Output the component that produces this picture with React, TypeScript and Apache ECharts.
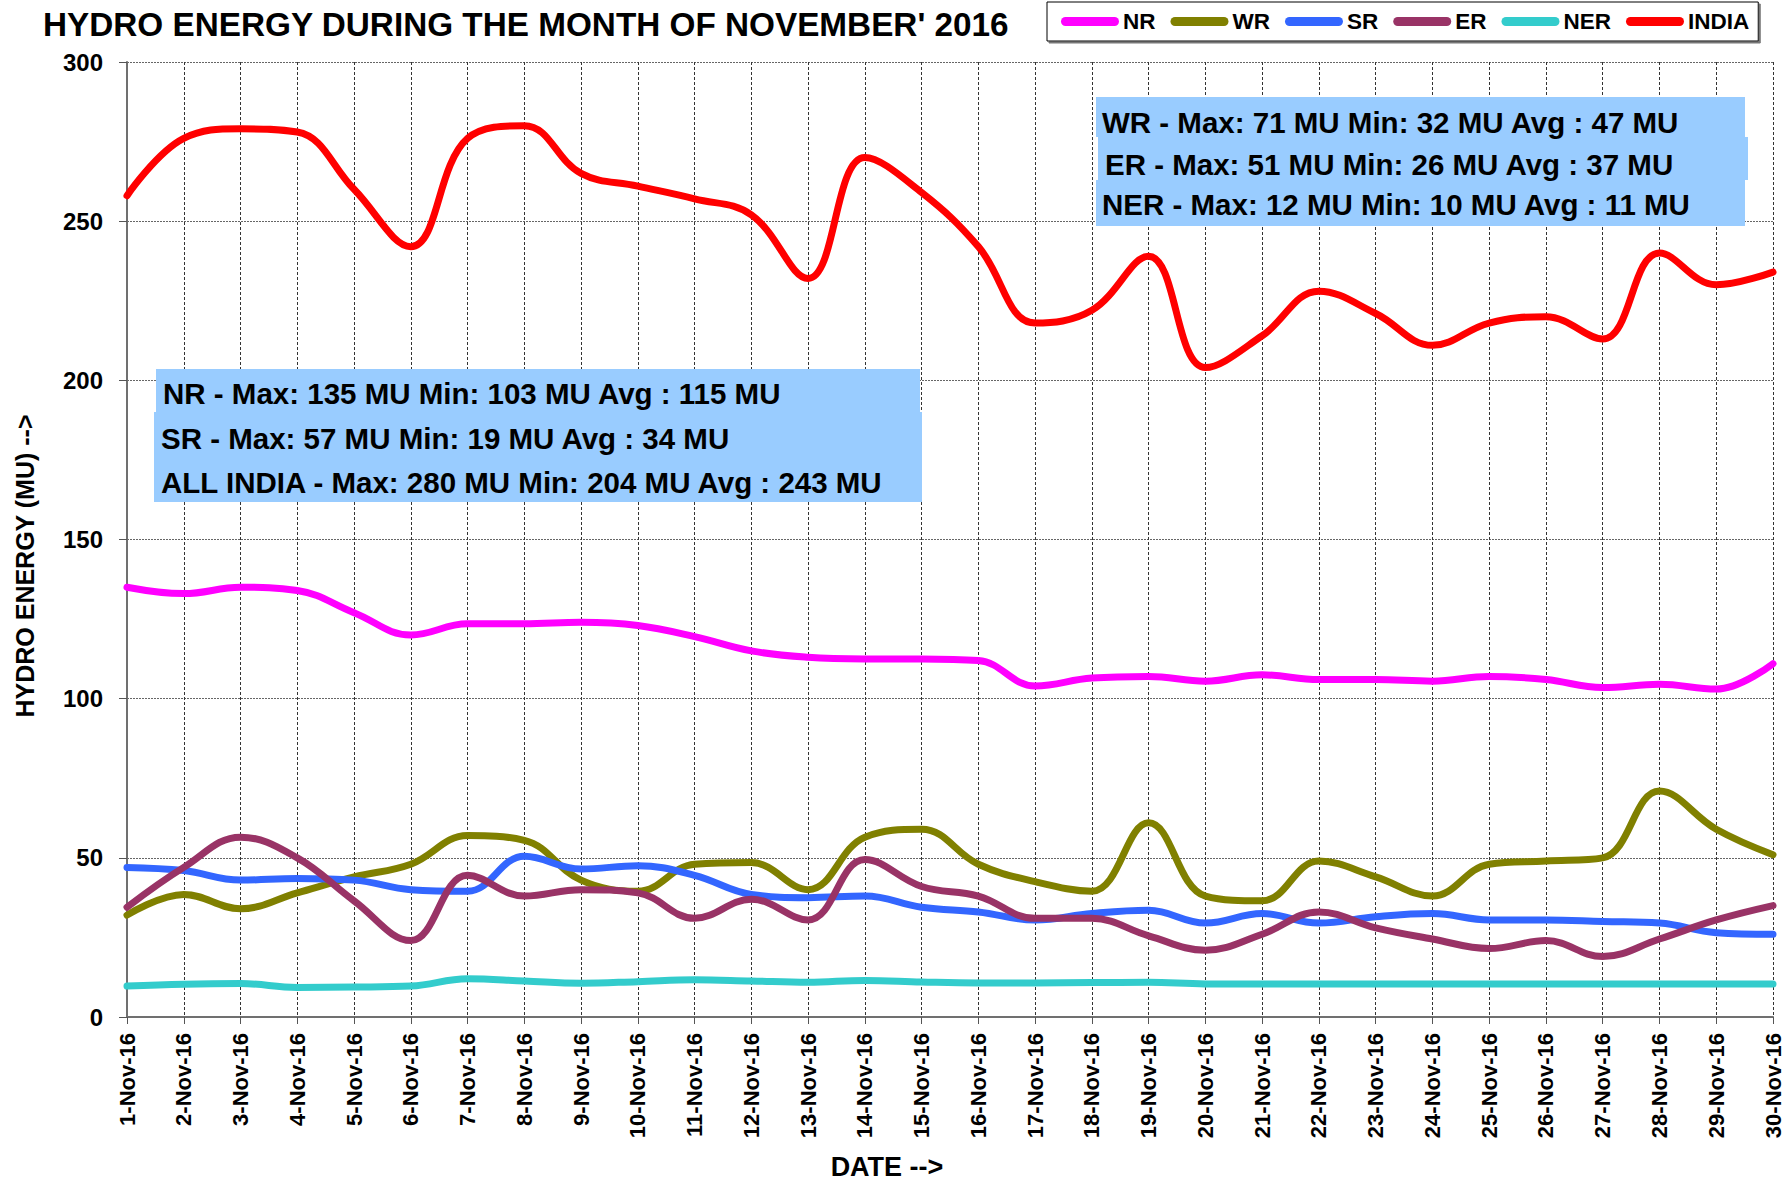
import React, { useEffect, useRef } from "react";
import * as echarts from "echarts";

const dates = [
  "1-Nov-16", "2-Nov-16", "3-Nov-16", "4-Nov-16", "5-Nov-16", "6-Nov-16", "7-Nov-16", "8-Nov-16",
  "9-Nov-16", "10-Nov-16", "11-Nov-16", "12-Nov-16", "13-Nov-16", "14-Nov-16", "15-Nov-16",
  "16-Nov-16", "17-Nov-16", "18-Nov-16", "19-Nov-16", "20-Nov-16", "21-Nov-16", "22-Nov-16",
  "23-Nov-16", "24-Nov-16", "25-Nov-16", "26-Nov-16", "27-Nov-16", "28-Nov-16", "29-Nov-16", "30-Nov-16",
];

const nrValues = [135, 133, 135, 134, 127, 120, 123.5, 123.5, 124, 123, 119.5, 115, 113, 112.5, 112.5,
  112, 104, 106.5, 107, 105.5, 107.5, 106, 106, 105.5, 107, 106, 103.5, 104.5, 103, 111];
const wrValues = [32, 38.5, 34, 39, 44, 48, 57, 55.5, 43, 39.5, 48, 48.5, 40, 56.5, 59,
  48, 42.5, 39.5, 61, 38, 36.5, 49, 44, 38, 48, 49, 50, 71, 59, 51];
const srValues = [47, 46, 43, 43.5, 43, 40, 39.5, 50.5, 46.5, 47.5, 44.5, 38.5, 37.5, 38, 34.5,
  33, 30.5, 32.5, 33.5, 29.5, 32.5, 29.5, 31.5, 32.5, 30.5, 30.5, 30, 29.5, 26.5, 26];
const erValues = [34.5, 47, 56.5, 50, 36.5, 24, 44.5, 38, 40, 39, 31, 37, 30.5, 49.5, 41,
  38, 31, 31, 25.5, 21, 26, 33, 28, 24.5, 21.5, 24, 19, 24.5, 30.5, 35];
const nerValues = [9.7, 10.3, 10.5, 9.3, 9.4, 9.7, 12, 11.3, 10.6, 11.1, 11.7, 11.3, 10.9, 11.5, 11,
  10.7, 10.7, 10.8, 10.9, 10.4, 10.4, 10.4, 10.4, 10.4, 10.4, 10.4, 10.4, 10.4, 10.4, 10.4];
const indiaValues = [258, 276, 279, 278, 260, 242, 276, 280, 265, 261, 257, 252, 232, 270, 259,
  242, 218, 222, 239, 204, 214, 228, 221, 211, 218, 220, 213, 240, 230, 234];

const seriesNames = ["NR", "WR", "SR", "ER", "NER", "INDIA"];
const seriesColors = ["#FF00FF", "#808000", "#3366FF", "#993366", "#33CCCC", "#FF0000"];
const seriesValues = [nrValues, wrValues, srValues, erValues, nerValues, indiaValues];

const yTicks = { min: 0, max: 300, interval: 50 };

const titleText = "HYDRO ENERGY DURING THE MONTH OF NOVEMBER' 2016";
const yAxisTitle = "HYDRO ENERGY (MU) -->";
const xAxisTitle = "DATE -->";
const boxLeftLines = [
  "NR - Max: 135 MU Min: 103 MU Avg : 115 MU",
  "SR - Max: 57 MU Min: 19 MU Avg : 34 MU",
  "ALL INDIA - Max: 280 MU Min: 204 MU Avg : 243 MU",
];
const boxRightLines = [
  "WR - Max: 71 MU Min: 32 MU Avg : 47 MU",
  "ER - Max: 51 MU Min: 26 MU Avg : 37 MU",
  "NER - Max: 12 MU Min: 10 MU Avg : 11 MU",
];

const FONT = "'Liberation Sans', Arial, Helvetica, sans-serif";
const BOX_FILL = "#99CCFF";

export default function App() {
  const ref = useRef<HTMLDivElement>(null);

  useEffect(() => {
    if (!ref.current) return;
    const chart = echarts.init(ref.current, null, { renderer: "svg" });

    const textStyle = (text: string, x: number, y: number, size: number) => ({
      type: "text",
      x,
      y,
      style: {
        text,
        fill: "#000",
        font: `bold ${size}px ${FONT}`,
        align: "left",
        verticalAlign: "middle",
      },
      z: 101,
    });

    const option: any = {
      animation: false,
      backgroundColor: "#fff",
      grid: { left: 127, right: 19, top: 62, bottom: 165, containLabel: false },
      legend: {
        data: seriesNames,
        left: 1047,
        top: 2,
        orient: "horizontal",
        itemWidth: 58,
        itemHeight: 9,
        itemGap: 15,
        padding: [8, 9, 8, 14],
        icon: "path://M4.5,0 L53.5,0 A4.5,4.5 0 0 1 53.5,9 L4.5,9 A4.5,4.5 0 0 1 4.5,0 Z",
        backgroundColor: "#fff",
        borderColor: "#000",
        borderWidth: 1,
        shadowColor: "#777",
        shadowOffsetX: 2,
        shadowOffsetY: 2,
        shadowBlur: 0,
        textStyle: { fontFamily: FONT, fontWeight: "bold", fontSize: 22.5, color: "#000", padding: [0, 0, 0, -1] },
        selectedMode: false,
      },
      xAxis: {
        type: "category",
        data: dates,
        boundaryGap: false,
        axisLine: { lineStyle: { color: "#707070", width: 2 } },
        axisTick: { show: true, length: 7, inside: false, alignWithLabel: true, lineStyle: { color: "#555", width: 1 } },
        axisLabel: {
          interval: 0,
          rotate: 90,
          margin: 16,
          fontFamily: FONT,
          fontWeight: "bold",
          fontSize: 22,
          color: "#000",
        },
        splitLine: { show: true, interval: 0, lineStyle: { color: "#333", width: 1, type: [3, 2] } },
      },
      yAxis: {
        type: "value",
        min: yTicks.min,
        max: yTicks.max,
        interval: yTicks.interval,
        axisLine: { show: true, lineStyle: { color: "#707070", width: 2 } },
        axisTick: { show: true, length: 8, lineStyle: { color: "#555", width: 1 } },
        axisLabel: {
          margin: 24,
          fontFamily: FONT,
          fontWeight: "bold",
          fontSize: 24,
          color: "#000",
        },
        splitLine: { show: true, lineStyle: { color: "#666", width: 1, type: [2, 1] } },
      },
      series: seriesNames.map((name, i) => ({
        name,
        type: "line",
        data: seriesValues[i],
        smooth: 0.4,
        showSymbol: false,
        symbol: "none",
        color: seriesColors[i],
        itemStyle: { color: seriesColors[i] },
        lineStyle: { color: seriesColors[i], width: 7, cap: "round", join: "round" },
        emphasis: { disabled: true },
        z: 2 + i,
      })),
      graphic: [
        {
          type: "text",
          x: 43,
          y: 24,
          style: { text: titleText, fill: "#000", font: `bold 33.3px ${FONT}`, align: "left", verticalAlign: "middle" },
        },
        {
          type: "text",
          x: 25,
          y: 566,
          rotation: Math.PI / 2,
          style: { text: yAxisTitle, fill: "#000", font: `bold 25px ${FONT}`, align: "center", verticalAlign: "middle" },
        },
        {
          type: "text",
          x: 887,
          y: 1167,
          style: { text: xAxisTitle, fill: "#000", font: `bold 27px ${FONT}`, align: "center", verticalAlign: "middle" },
        },
        // left box
        { type: "rect", shape: { x: 156, y: 369, width: 764, height: 44 }, style: { fill: BOX_FILL }, z: 100 },
        { type: "rect", shape: { x: 154, y: 412, width: 768, height: 90 }, style: { fill: BOX_FILL }, z: 100 },
        textStyle(boxLeftLines[0], 163, 393, 29.5),
        textStyle(boxLeftLines[1], 161, 438, 29.5),
        textStyle(boxLeftLines[2], 161, 482, 29.5),
        // right box
        { type: "rect", shape: { x: 1096, y: 97, width: 649, height: 40 }, style: { fill: BOX_FILL }, z: 100 },
        { type: "rect", shape: { x: 1098, y: 137, width: 650, height: 43 }, style: { fill: BOX_FILL }, z: 100 },
        { type: "rect", shape: { x: 1096, y: 180, width: 649, height: 46 }, style: { fill: BOX_FILL }, z: 100 },
        textStyle(boxRightLines[0], 1102, 122, 29.5),
        textStyle(boxRightLines[1], 1105, 164, 29.5),
        textStyle(boxRightLines[2], 1102, 204, 29.5),
      ],
    };

    chart.setOption(option);
    return () => chart.dispose();
  }, []);

  return (
    <div
      ref={ref}
      style={{ position: "absolute", left: 0, top: 0, width: 1792, height: 1182, background: "#fff" }}
    />
  );
}
